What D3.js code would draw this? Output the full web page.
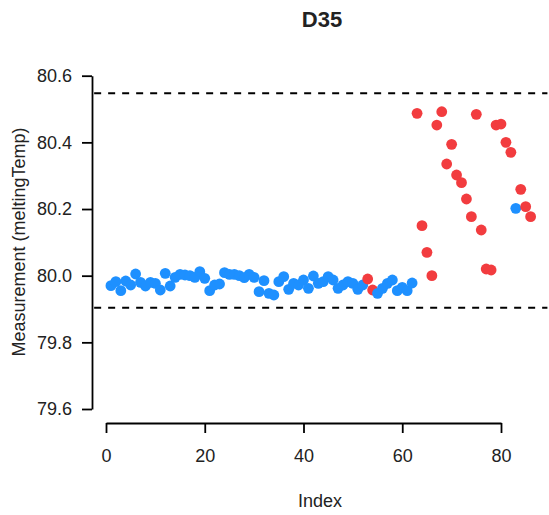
<!DOCTYPE html>
<html>
<head>
<meta charset="utf-8">
<script src="https://cdn.jsdelivr.net/npm/d3@7"></script>
<style>
  html, body { margin: 0; padding: 0; background: #fff; }
  svg { display: block; font-family: "Liberation Sans", Arial, sans-serif; }
</style>
</head>
<body>
<svg id="chart" width="549" height="515"></svg>
<script>
const title = "D35";
const xLabel = "Index";
const yLabel = "Measurement (meltingTemp)";
const xTicks = [0, 20, 40, 60, 80];
const yTicks = [79.6, 79.8, 80.0, 80.2, 80.4, 80.6];
const limits = [79.904, 80.547];
const values = [
  79.970, 79.982, 79.955, 79.984, 79.972, 80.005, 79.980, 79.969, 79.980, 79.977,
  79.957, 80.007, 79.969, 79.995, 80.004, 80.002, 80.000, 79.995, 80.012, 79.992,
  79.955, 79.972, 79.975, 80.009, 80.004, 80.004, 80.000, 79.994, 80.004, 79.995,
  79.952, 79.985, 79.947, 79.942, 79.982, 79.997, 79.959, 79.977, 79.972, 79.987,
  79.962, 79.999, 79.977, 79.982, 79.997, 79.987, 79.962, 79.972, 79.982, 79.977,
  79.959, 79.972, 79.990, 79.957, 79.947, 79.962, 79.977, 79.987, 79.955, 79.965,
  79.955, 79.978, 80.487, 80.150, 80.070, 80.000, 80.452, 80.492, 80.335, 80.394,
  80.302, 80.279, 80.230, 80.177, 80.484, 80.137, 80.020, 80.017, 80.452, 80.455,
  80.400, 80.370, 80.202, 80.259, 80.207, 80.177
];
// 1 = flagged (red), 0 = normal (blue)
const flags = [
  0,0,0,0,0,0,0,0,0,0, 0,0,0,0,0,0,0,0,0,0,
  0,0,0,0,0,0,0,0,0,0, 0,0,0,0,0,0,0,0,0,0,
  0,0,0,0,0,0,0,0,0,0, 0,0,1,1,0,0,0,0,0,0,
  0,0,1,1,1,1,1,1,1,1, 1,1,1,1,1,1,1,1,1,1,
  1,1,0,1,1,1
];
const colors = ["#1E90FF", "#F23C3F"];

const svg = d3.select("#chart");
const x = d3.scaleLinear().domain([0, 80]).range([106, 501]);
const y = d3.scaleLinear().domain([79.6, 80.6]).range([409, 75.7]);
const xPlot = [-2.4, 89.4];

// reference lines
svg.append("g").selectAll("line").data(limits).join("line")
  .attr("x1", x(xPlot[0])).attr("x2", x(xPlot[1]))
  .attr("y1", d => y(d)).attr("y2", d => y(d))
  .attr("stroke", "#000").attr("stroke-width", 2)
  .attr("stroke-dasharray", "7,7");

// points
const pts = values.map((v, i) => ({ i: i + 1, v, f: flags[i] }));
svg.append("g").selectAll("circle").data(pts).join("circle")
  .attr("cx", d => x(d.i)).attr("cy", d => y(d.v))
  .attr("r", 5.4).attr("fill", d => colors[d.f]);

// axes
const xAxis = svg.append("g").attr("transform", "translate(0,423)")
  .call(d3.axisBottom(x).tickValues(xTicks).tickSize(10).tickSizeOuter(0).tickPadding(16).tickFormat(d3.format("d")));
const yAxis = svg.append("g").attr("transform", "translate(92,0)")
  .call(d3.axisLeft(y).tickValues(yTicks).tickSize(10).tickSizeOuter(0).tickPadding(10).tickFormat(d3.format(".1f")));
[xAxis, yAxis].forEach(g => {
  g.select(".domain").attr("stroke", "#000").attr("stroke-width", 1.8);
  g.selectAll(".tick line").attr("stroke", "#000").attr("stroke-width", 1.8);
  g.selectAll(".tick text").attr("font-size", 18).attr("fill", "#222")
    .attr("font-family", "'Liberation Sans', Arial, sans-serif");
});

// titles
svg.append("text").attr("x", 322).attr("y", 27).attr("text-anchor", "middle")
  .attr("font-size", 22).attr("font-weight", "bold").attr("fill", "#222").text(title);
svg.append("text").attr("x", 320).attr("y", 507).attr("text-anchor", "middle")
  .attr("font-size", 18).attr("fill", "#222").text(xLabel);
svg.append("text").attr("transform", "translate(25,242) rotate(-90)").attr("text-anchor", "middle")
  .attr("font-size", 18).attr("fill", "#222").text(yLabel);
</script>
</body>
</html>
